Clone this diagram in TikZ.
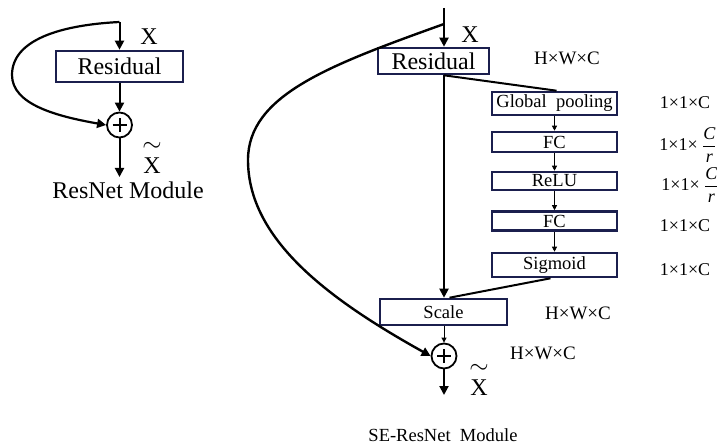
\documentclass[tikz,border=0pt]{standalone}
\usepackage{amsmath}
\usepackage{fontspec}
\setmainfont{Liberation Serif}
\usetikzlibrary{arrows.meta}
\definecolor{navy}{HTML}{1B1F4E}
\newcommand{\tildeX}{$\overset{\raisebox{1pt}{$\sim$}}{\text{X}}$}
\begin{document}
\begin{tikzpicture}[x=1pt,y=-1pt,
  box/.style={draw=navy, line width=2.6pt, fill=white, inner sep=0pt, font=\fontsize{18.5}{18.5}\selectfont},
  big/.style={font=\fontsize{24}{24}\selectfont},
  lbl/.style={inner sep=0pt, font=\fontsize{18}{18}\selectfont},
  arr/.style={line width=2pt, -{Triangle[length=9pt,width=9pt]}},
  sarr/.style={line width=0.9pt, -{Triangle[length=5pt,width=5pt]}},
  ln/.style={line width=2pt},
  sum/.style={circle, draw, line width=1.8pt, minimum size=25pt, inner sep=0pt,
    path picture={\draw[line width=2pt] ([xshift=-7pt]path picture bounding box.center) -- ([xshift=7pt]path picture bounding box.center);
                  \draw[line width=2pt] ([yshift=-7pt]path picture bounding box.center) -- ([yshift=7pt]path picture bounding box.center);}}
]
\useasboundingbox[fill=white] (0,0) rectangle (717,446);

% ---------- ResNet module ----------
\coordinate (lt) at (119.5,22);
\coordinate (lend) at (119.5,177);
\node[box, big, minimum width=127pt, minimum height=31pt] (lres) at (119.5,66.5) {Residual};
\node[sum] (lsum) at (119.5,125) {};
\draw[arr] (lt) -- (lres.north);
\draw[arr] (lres.south) -- (lsum.north);
\draw[arr] (lsum.south) -- (lend);
\draw[arr, line width=2.2pt] (lt) .. controls (60,25) and (12,40) .. (12,75) .. controls (12,104) and (55,116) .. (lsum.west);
\node[big, inner sep=0pt] (lx) at (149,37) {X};
\node[big, inner sep=0pt] (lxt) at (152,157) {\tildeX};
\node[inner sep=0pt, font=\fontsize{24}{24}\selectfont] (lcap) at (128,190) {ResNet Module};

% ---------- SE-ResNet module ----------
\coordinate (rt) at (444,8);
\coordinate (rj) at (444,24);
\coordinate (rend) at (444,395);
\node[box, big, minimum width=111pt, minimum height=26pt] (rres) at (433.5,61) {Residual};
\node[box, minimum width=125pt, minimum height=23pt] (gp) at (554.5,103.5) {Global\ \ pooling};
\node[box, minimum width=125pt, minimum height=20pt] (fc1) at (554.5,142) {FC};
\node[box, minimum width=125pt, minimum height=18pt] (relu) at (554.5,181) {ReLU};
\node[box, minimum width=125pt, minimum height=19pt] (fc2) at (554.5,221) {FC};
\node[box, minimum width=125pt, minimum height=24pt] (sig) at (554.5,265) {Sigmoid};
\node[box, minimum width=127pt, minimum height=26pt] (scale) at (443.5,312) {Scale};
\node[sum] (rsum) at (444,356) {};

\draw[arr] (rt) -- (rres.north -| rt);
\draw[arr, line width=2.4pt] (rj) .. controls (330,65) and (248,95) .. (248,160) .. controls (248,240) and (330,300) .. (rsum.west);
\draw[arr] (rres.south -| rt) -- (scale.north -| rt);
\draw[ln] (rres.south -| rt) -- ([xshift=2pt]gp.north);
\draw[sarr] (gp.south) -- (fc1.north);
\draw[sarr] (fc1.south) -- (relu.north);
\draw[sarr] (relu.south) -- (fc2.north);
\draw[sarr] (fc2.south) -- (sig.north);
\draw[ln] ([xshift=-4pt]sig.south) -- ([xshift=6pt]scale.north);
\draw[sarr] (scale.south -| rt) -- (rsum.north);
\draw[arr] (rsum.south) -- (rend);

\node[big, inner sep=0pt] (rx) at (470,35) {X};
\node[big, inner sep=0pt] (rxt) at (479,379) {\tildeX};
\node[lbl, font=\fontsize{19}{19}\selectfont] (d0) at (567,58) {H×W×C};
\node[lbl] (d1) at (685,103) {1×1×C};
\node[lbl] (d2) at (688,145) {1×1×\ $\dfrac{\textit{C}}{\textit{r}}$};
\node[lbl] (d3) at (690,185) {1×1×\ $\dfrac{\textit{C}}{\textit{r}}$};
\node[lbl] (d4) at (685,226) {1×1×C};
\node[lbl] (d5) at (685,270) {1×1×C};
\node[lbl, font=\fontsize{19}{19}\selectfont] (d6) at (578,313) {H×W×C};
\node[lbl, font=\fontsize{19}{19}\selectfont] (d7) at (543,353) {H×W×C};
\node[inner sep=0pt, font=\fontsize{18.5}{18.5}\selectfont] (rcap) at (443,435) {SE-ResNet\ \ Module};
\end{tikzpicture}
\end{document}
